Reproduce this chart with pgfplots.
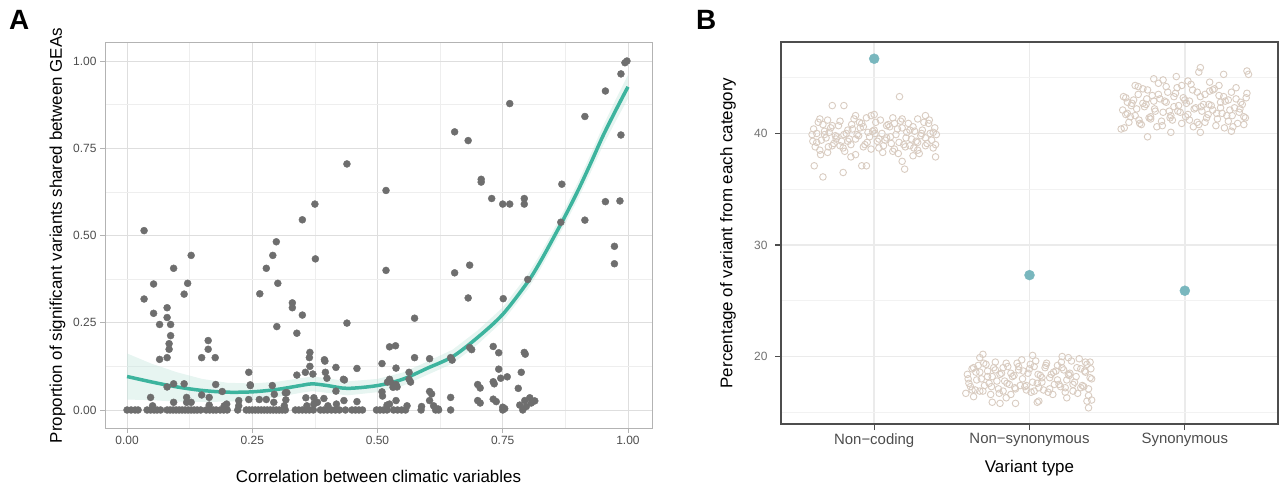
\documentclass[border=0pt]{standalone}
\usepackage{fontspec}
\setmainfont{Liberation Sans}
\usepackage{pgfplots}
\pgfplotsset{compat=1.18}
\definecolor{ptA}{HTML}{6E6E6E}
\definecolor{smoothC}{HTML}{3DB49E}
\definecolor{ribbonC}{HTML}{C3E5DD}
\definecolor{gridmaj}{HTML}{DEDEDE}
\definecolor{gridmin}{HTML}{EEEEEE}
\definecolor{borderA}{HTML}{B3B3B3}
\definecolor{ticklab}{HTML}{4D4D4D}
\definecolor{beige}{HTML}{D9CCC1}
\definecolor{bluept}{HTML}{79B7BE}
\definecolor{gridB}{HTML}{EBEBEB}
\definecolor{gridBmin}{HTML}{F2F2F2}
\definecolor{borderB}{HTML}{4D4D4D}
\begin{document}
\begin{tikzpicture}
\path[use as bounding box] (0bp,0bp) rectangle (1280bp,490bp);
\node[anchor=base west, font=\bfseries\fontsize{28}{30}\selectfont, inner sep=0pt] at (9bp,460bp) {A};
\node[anchor=base west, font=\bfseries\fontsize{28}{30}\selectfont, inner sep=0pt] at (696bp,460bp) {B};
\begin{axis}[
 at={(105bp,62bp)}, anchor=south west,
 width=547bp, height=385bp, scale only axis,
 xmin=-0.044, xmax=1.048, ymin=-0.0516, ymax=1.0516,
 xtick={0,0.25,0.5,0.75,1}, ytick={0,0.25,0.5,0.75,1},
 minor xtick={0.125,0.375,0.625,0.875}, minor ytick={0.125,0.375,0.625,0.875},
 xticklabels={0.00,0.25,0.50,0.75,1.00}, yticklabels={0.00,0.25,0.50,0.75,1.00},
 grid=both, major grid style={gridmaj, line width=0.7bp}, minor grid style={gridmin, line width=0.5bp},
 minor tick length=0pt, major tick length=5bp,
 tick align=outside, tick pos=left,
 tick style={borderA, line width=0.7bp},
 axis line style={borderA, line width=1bp},
 ticklabel style={font=\fontsize{12}{14}\selectfont, text=ticklab},
 xlabel={Correlation between climatic variables},
 ylabel={Proportion of significant variants shared between GEAs},
 label style={font=\fontsize{17}{20}\selectfont},
 xlabel style={at={(axis description cs:0.5,0)}, anchor=base, yshift=-54bp},
 ylabel style={at={(axis description cs:0,0.5)}, anchor=center, yshift=47.5bp},
]
\addplot[only marks, mark=*, mark size=3.5bp, color=ptA, mark options={draw=none, fill=ptA}] coordinates {
(0.000,0) (0.008,0) (0.016,0) (0.022,0) (0.040,0) (0.047,0) (0.054,0) (0.060,0) (0.067,0)
(0.080,0) (0.086,0) (0.092,0) (0.098,0) (0.104,0) (0.110,0) (0.116,0) (0.122,0) (0.128,0)
(0.134,0) (0.140,0) (0.147,0) (0.158,0) (0.165,0) (0.172,0) (0.178,0) (0.186,0) (0.193,0)
(0.200,0) (0.221,0) (0.238,0) (0.244,0) (0.250,0) (0.256,0) (0.262,0) (0.268,0) (0.274,0)
(0.280,0) (0.286,0) (0.292,0) (0.298,0) (0.304,0) (0.310,0) (0.316,0) (0.336,0) (0.343,0)
(0.350,0) (0.357,0) (0.364,0) (0.372,0) (0.386,0) (0.393,0) (0.400,0) (0.408,0) (0.416,0)
(0.424,0) (0.436,0) (0.449,0) (0.456,0) (0.463,0) (0.470,0) (0.498,0) (0.505,0) (0.512,0)
(0.519,0) (0.532,0) (0.540,0) (0.548,0) (0.556,0) (0.587,0) (0.616,0) (0.622,0) (0.646,0)
(0.750,0)
(0.051,0.012) (0.164,0.014) (0.194,0.012) (0.199,0.017) (0.223,0.012) (0.314,0.012)
(0.359,0.012) (0.373,0.017) (0.380,0.022) (0.401,0.012) (0.418,0.017) (0.519,0.014)
(0.524,0.017) (0.559,0.012) (0.612,0.012) (0.588,0.010) (0.750,0.008) (0.784,0.014)
(0.754,0.004) (0.790,0.000) (0.797,0.010) (0.807,0.020) (0.814,0.026) (0.705,0.020)
(0.737,0.024)
(0.047,0.036) (0.093,0.022) (0.119,0.022) (0.128,0.022) (0.119,0.036) (0.164,0.036)
(0.223,0.027) (0.243,0.030) (0.264,0.030) (0.278,0.030) (0.294,0.045) (0.293,0.022)
(0.317,0.029) (0.316,0.049) (0.357,0.035) (0.373,0.035) (0.393,0.033) (0.433,0.027)
(0.459,0.024) (0.537,0.027) (0.604,0.027) (0.621,0.003) (0.646,0.036) (0.700,0.027)
(0.731,0.031) (0.794,0.027) (0.804,0.035) (0.290,0.070) (0.319,0.050) (0.246,0.070)
(0.034,0.514) (0.128,0.443) (0.093,0.406) (0.053,0.361) (0.121,0.363) (0.034,0.318)
(0.114,0.332) (0.053,0.277) (0.080,0.293) (0.080,0.265) (0.065,0.245) (0.087,0.245)
(0.087,0.213) (0.084,0.190) (0.084,0.174) (0.080,0.150) (0.065,0.145) (0.162,0.199)
(0.162,0.174) (0.149,0.150) (0.176,0.150) (0.093,0.075) (0.114,0.075) (0.080,0.066)
(0.149,0.043) (0.177,0.073) (0.190,0.053) (0.243,0.108) (0.246,0.072) (0.265,0.333)
(0.278,0.406) (0.291,0.443) (0.298,0.482) (0.301,0.363) (0.299,0.239) (0.330,0.307)
(0.330,0.293) (0.350,0.272) (0.350,0.545) (0.375,0.590) (0.376,0.433) (0.339,0.220)
(0.365,0.165) (0.364,0.150) (0.365,0.125) (0.356,0.108) (0.371,0.103) (0.339,0.100)
(0.394,0.144) (0.396,0.108) (0.417,0.122) (0.432,0.088) (0.439,0.705) (0.439,0.249)
(0.459,0.119) (0.417,0.054) (0.517,0.629) (0.517,0.400) (0.509,0.133) (0.524,0.181)
(0.536,0.184) (0.537,0.120) (0.524,0.088) (0.537,0.073) (0.509,0.052) (0.574,0.263)
(0.574,0.150) (0.563,0.108) (0.563,0.088) (0.604,0.147) (0.604,0.053) (0.654,0.797)
(0.681,0.772) (0.654,0.393) (0.684,0.415) (0.681,0.321) (0.646,0.150) (0.684,0.179)
(0.700,0.073) (0.707,0.661) (0.707,0.653) (0.728,0.606) (0.750,0.590) (0.764,0.590)
(0.764,0.878) (0.793,0.606) (0.793,0.590) (0.751,0.319) (0.731,0.182) (0.742,0.164)
(0.742,0.117) (0.731,0.081) (0.733,0.075) (0.746,0.091) (0.759,0.095) (0.793,0.165)
(0.795,0.160) (0.787,0.108) (0.781,0.062) (0.800,0.374) (0.868,0.647) (0.866,0.538)
(0.914,0.841) (0.914,0.544) (0.955,0.914) (0.955,0.597) (0.973,0.469) (0.973,0.419)
(0.986,0.963) (0.986,0.788) (0.984,0.599) (0.998,1.000) (0.994,0.995) (0.539,0.066)
(0.526,0.080) (0.566,0.080) (0.510,0.040) (0.608,0.046) (0.705,0.063) (0.688,0.173)
(0.649,0.143) (0.520,0.080) (0.531,0.065) (0.395,0.140) (0.399,0.091) (0.434,0.086)
};
\addplot[fill=ribbonC, fill opacity=0.4, draw=none] coordinates {
(0.00,0.162) (0.05,0.132) (0.10,0.108) (0.15,0.089) (0.20,0.078) (0.25,0.076) (0.30,0.081)
(0.35,0.092) (0.37,0.096) (0.40,0.091) (0.44,0.082) (0.50,0.089) (0.55,0.107) (0.60,0.139)
(0.65,0.173) (0.70,0.228) (0.75,0.294) (0.80,0.388) (0.825,0.447) (0.85,0.512) (0.875,0.580)
(0.90,0.652) (0.925,0.731) (0.95,0.813) (0.975,0.888) (1.00,0.960)
(1.00,0.892) (0.975,0.826) (0.95,0.757) (0.925,0.679) (0.90,0.604) (0.875,0.534) (0.85,0.468)
(0.825,0.403) (0.80,0.346) (0.75,0.254) (0.70,0.188) (0.65,0.133) (0.60,0.101) (0.55,0.069)
(0.50,0.051) (0.44,0.042) (0.40,0.049) (0.37,0.054) (0.35,0.050) (0.30,0.037) (0.25,0.028)
(0.20,0.024) (0.15,0.023) (0.10,0.024) (0.05,0.028) (0.00,0.030)} -- cycle;
\addplot[smoothC, line width=3.5bp, smooth] coordinates {
(0.00,0.096) (0.05,0.080) (0.10,0.066) (0.15,0.056) (0.20,0.051) (0.25,0.052) (0.30,0.059)
(0.35,0.071) (0.37,0.075) (0.40,0.070) (0.44,0.062) (0.50,0.070) (0.55,0.088) (0.60,0.120)
(0.65,0.153) (0.70,0.208) (0.75,0.274) (0.80,0.367) (0.825,0.425) (0.85,0.490) (0.875,0.557)
(0.90,0.628) (0.925,0.705) (0.95,0.785) (0.975,0.857) (1.00,0.926)};
\end{axis}
\begin{axis}[
 at={(781bp,66bp)}, anchor=south west,
 width=497bp, height=382bp, scale only axis,
 xmin=0.4, xmax=3.6, ymin=13.95, ymax=48.2,
 xtick={1,2,3}, xticklabels={Non−coding,Non−synonymous,Synonymous},
 ytick={20,30,40}, yticklabels={20,30,40}, minor ytick={15,25,35,45},
 grid=both, major grid style={gridB, line width=1.6bp}, minor grid style={gridBmin, line width=1bp},
 minor tick length=0pt, major tick length=6bp,
 tick align=outside, tick pos=left,
 tick style={borderB, line width=1.2bp},
 axis line style={borderB, line width=1.2bp},
 yticklabel style={font=\fontsize{12}{14}\selectfont, text=ticklab!80!white, xshift=-4bp},
 xticklabel style={font=\fontsize{15}{17}\selectfont, text=ticklab},
 xlabel={Variant type},
 ylabel={Percentage of variant from each category},
 label style={font=\fontsize{17}{20}\selectfont},
 xlabel style={at={(axis description cs:0.5,0)}, anchor=base, yshift=-48bp},
 ylabel style={at={(axis description cs:0,0.5)}, anchor=center, yshift=53bp},
]
\addplot[only marks, mark=o, mark size=3.3bp, color=beige, mark options={line width=0.9bp}] coordinates {
(0.60,39.9) (0.62,38.8) (0.64,41.0) (0.66,39.4) (0.68,40.2) (0.70,38.3) (0.72,40.5) (0.74,39.1) (0.76,39.7) (0.78,41.1)
(0.80,38.7) (0.82,40.0) (0.84,39.5) (0.86,40.4) (0.88,38.1) (0.90,39.8) (0.92,40.9) (0.94,39.0) (0.96,40.1) (0.98,38.6)
(1.00,40.3) (1.02,39.3) (1.04,41.2) (1.06,38.9) (1.08,39.6) (1.10,40.6) (1.12,38.4) (1.14,39.9) (1.16,39.2) (1.18,40.5)
(1.20,38.8) (1.22,40.9) (1.24,39.5) (1.26,40.2) (1.28,38.5) (1.30,39.8) (1.32,41.0) (1.34,39.1) (1.36,40.0) (1.38,38.7) (1.40,39.9)
(0.61,40.4) (0.63,39.2) (0.65,38.5) (0.67,40.8) (0.69,39.6) (0.71,40.1) (0.73,38.9) (0.75,39.8) (0.77,40.7) (0.79,39.3)
(0.81,38.4) (0.83,40.3) (0.85,39.0) (0.87,41.3) (0.89,39.9) (0.91,40.5) (0.93,38.8) (0.95,41.4) (0.97,39.7) (0.99,40.2)
(1.01,41.0) (1.03,38.7) (1.05,40.0) (1.07,39.4) (1.09,40.8) (1.11,39.1) (1.13,38.6) (1.15,40.4) (1.17,41.1) (1.19,39.0)
(1.21,40.1) (1.23,38.9) (1.25,40.6) (1.27,39.3) (1.29,38.2) (1.31,40.3) (1.33,39.6) (1.35,40.9) (1.37,39.4) (1.39,40.5)
(0.605,39.3) (0.63,40.0) (0.655,38.1) (0.68,39.9) (0.705,38.8) (0.73,40.7) (0.755,39.5) (0.78,38.9) (0.805,39.9) (0.83,39.3)
(0.855,40.8) (0.88,39.5) (0.905,41.0) (0.93,40.6) (0.955,39.2) (0.98,41.6) (1.005,40.0) (1.03,39.5) (1.055,38.3) (1.08,40.7)
(1.105,39.7) (1.13,40.9) (1.155,38.2) (1.18,41.3) (1.205,39.6) (1.23,40.3) (1.255,38.7) (1.28,39.2) (1.305,40.0) (1.33,38.9)
(1.355,41.2) (1.38,40.1) (1.395,39.0)
(0.73,42.5) (0.805,42.5) (1.163,43.3) (0.67,36.1) (0.80,36.5) (1.196,36.8) (0.614,37.1) (0.92,37.1) (0.95,37.1) (1.395,37.9)
(1.18,37.5) (0.65,41.3) (0.70,41.2) (1.33,41.6) (1.28,41.3) (1.12,41.4) (0.88,41.6) (1.00,41.7) (0.85,37.9) (1.25,38.0)
(1.60,18.4) (1.62,17.3) (1.64,19.0) (1.66,17.9) (1.68,18.6) (1.70,16.9) (1.72,19.3) (1.74,17.6) (1.76,18.2) (1.78,19.5)
(1.80,17.1) (1.82,18.5) (1.84,17.8) (1.86,19.1) (1.88,16.6) (1.90,18.3) (1.92,19.4) (1.94,17.4) (1.96,18.7) (1.98,17.0)
(2.00,18.9) (2.02,17.7) (2.04,19.6) (2.06,17.2) (2.08,18.1) (2.10,19.0) (2.12,16.8) (2.14,18.4) (2.16,17.5) (2.18,19.2)
(2.20,17.3) (2.22,18.8) (2.24,17.9) (2.26,18.5) (2.28,16.9) (2.30,18.2) (2.32,19.8) (2.34,17.4) (2.36,18.6) (2.38,17.1) (2.40,18.0)
(1.61,17.6) (1.63,18.9) (1.65,17.0) (1.67,19.2) (1.69,18.0) (1.71,17.4) (1.73,18.7) (1.75,16.6) (1.77,19.0) (1.79,17.8)
(1.81,18.4) (1.83,16.9) (1.85,19.4) (1.87,17.5) (1.89,18.2) (1.91,17.1) (1.93,18.8) (1.95,19.7) (1.97,17.3) (1.99,18.5)
(2.01,16.8) (2.03,19.1) (2.05,17.6) (2.07,18.3) (2.09,17.0) (2.11,19.4) (2.13,18.1) (2.15,16.6) (2.17,18.7) (2.19,17.5)
(2.21,19.0) (2.23,17.2) (2.25,18.4) (2.27,19.6) (2.29,17.7) (2.31,16.7) (2.33,18.9) (2.35,17.3) (2.37,19.3) (2.39,18.1)
(1.605,18.0) (1.63,17.0) (1.655,18.6) (1.68,16.9) (1.705,19.4) (1.73,18.2) (1.755,17.3) (1.78,18.8) (1.805,16.7) (1.83,19.0)
(1.855,17.6) (1.88,18.5) (1.905,17.2) (1.93,19.1) (1.955,18.0) (1.98,17.4) (2.005,19.3) (2.03,16.9) (2.055,18.4) (2.08,17.7)
(2.105,19.2) (2.13,17.1) (2.155,18.6) (2.18,17.9) (2.205,19.5) (2.23,16.8) (2.255,18.3) (2.28,17.5) (2.305,19.0) (2.33,17.2)
(2.355,18.7) (2.38,16.5) (2.395,18.9)
(1.59,16.7) (1.70,20.2) (1.68,19.9) (2.02,20.1) (2.21,20.0) (2.25,19.9) (2.36,19.5) (2.39,19.5) (1.81,15.8) (1.76,15.9)
(1.91,15.8) (2.06,16.0) (2.05,15.9) (2.24,16.3) (2.38,15.4) (2.37,16.0) (2.40,16.1) (1.85,16.3) (1.64,16.4)
(2.60,42.1) (2.62,43.2) (2.64,41.0) (2.66,42.7) (2.68,41.6) (2.70,43.5) (2.72,40.8) (2.74,42.4) (2.76,43.9) (2.78,41.3)
(2.80,42.9) (2.82,40.6) (2.84,43.1) (2.86,41.9) (2.88,44.2) (2.90,42.0) (2.92,41.2) (2.94,43.6) (2.96,42.5) (2.98,40.9)
(3.00,43.0) (3.02,41.7) (3.04,44.4) (3.06,42.2) (3.08,41.0) (3.10,43.3) (3.12,42.6) (3.14,41.4) (3.16,43.8) (3.18,42.1)
(3.20,40.7) (3.22,43.4) (3.24,41.8) (3.26,42.9) (3.28,41.1) (3.30,43.7) (3.32,42.3) (3.34,40.9) (3.36,42.8) (3.38,41.5) (3.40,43.6)
(2.61,40.5) (2.63,42.8) (2.65,41.5) (2.67,43.0) (2.69,42.2) (2.71,40.9) (2.73,44.0) (2.75,42.6) (2.77,41.4) (2.79,43.4)
(2.81,42.0) (2.83,44.5) (2.85,41.1) (2.87,42.9) (2.89,43.7) (2.91,41.6) (2.93,42.4) (2.95,44.1) (2.97,41.9) (2.99,43.2)
(3.01,42.7) (3.03,41.2) (3.05,43.9) (3.07,42.3) (3.09,40.8) (3.11,42.0) (3.13,43.5) (3.15,41.7) (3.17,42.5) (3.19,44.0)
(3.21,41.3) (3.23,42.8) (3.25,43.3) (3.27,41.6) (3.29,42.1) (3.31,40.6) (3.33,43.1) (3.35,41.9) (3.37,42.6) (3.39,41.4)
(2.605,43.3) (2.63,41.8) (2.655,42.5) (2.68,44.3) (2.705,41.2) (2.73,42.7) (2.755,43.1) (2.78,41.5) (2.805,42.2) (2.83,43.5)
(2.855,40.7) (2.88,42.8) (2.905,41.4) (2.93,43.3) (2.955,42.0) (2.98,44.3) (3.005,41.5) (3.03,42.9) (3.055,40.6) (3.08,43.7)
(3.105,42.4) (3.13,41.0) (3.155,42.6) (3.18,43.9) (3.205,41.8) (3.23,42.3) (3.255,40.5) (3.28,43.0) (3.305,41.6) (3.33,44.1)
(3.355,42.2) (3.38,40.8) (3.395,43.2)
(3.10,45.9) (3.09,45.5) (3.40,45.6) (3.41,45.3) (3.25,45.3) (2.945,45.1) (2.80,44.9) (2.76,39.7) (2.91,40.1) (3.10,40.1)
(3.30,40.2) (2.59,40.4) (2.62,41.7) (2.86,44.8) (3.02,44.7) (2.70,44.2) (3.16,44.6) (3.22,44.3)
};
\addplot[only marks, mark=*, mark size=5bp, color=bluept, mark options={draw=none, fill=bluept}] coordinates {
(1,46.7) (2,27.3) (3,25.9)};
\end{axis}
\end{tikzpicture}
\end{document}
